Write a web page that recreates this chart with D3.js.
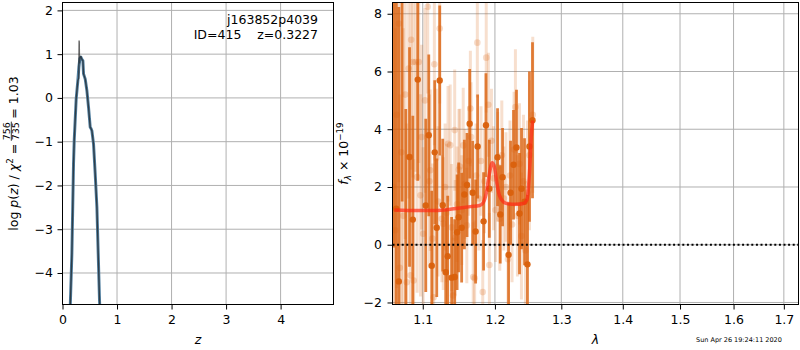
<!DOCTYPE html>
<html><head><meta charset="utf-8">
<script src="https://cdn.jsdelivr.net/npm/d3@7"></script>
<style>body{margin:0;background:#fff}svg{display:block;font-family:"DejaVu Sans",sans-serif}</style>
</head><body><svg id="c" width="800" height="350"></svg>
<script>
// ---------- DATA ----------
// Left panel: log p(z)
const pzZ    = [0.130, 0.140, 0.172, 0.202, 0.215, 0.251, 0.282, 0.300, 0.319, 0.337, 0.356, 0.374, 0.386, 0.417, 0.447, 0.477, 0.508, 0.523, 0.539, 0.569, 0.600, 0.631, 0.655, 0.679, 0.700];
const pzLogp = [-5.3, -4.85, -3.56, -1.51, -0.97, -0.02, 0.40, 0.70, 0.90, 0.93, 0.88, 0.85, 0.55, 0.43, 0.17, -0.21, -0.67, -0.70, -0.75, -1.05, -1.74, -2.50, -3.56, -4.63, -5.30];
const pzFineZ    = [0.130, 0.140, 0.172, 0.202, 0.215, 0.251, 0.282, 0.298, 0.304, 0.308, 0.313, 0.319, 0.337, 0.356, 0.374, 0.386, 0.417, 0.447, 0.477, 0.508, 0.523, 0.539, 0.569, 0.600, 0.631, 0.655, 0.679, 0.700];
const pzFineLogp = [-5.3, -4.85, -3.56, -1.51, -0.97, -0.02, 0.40, 0.45, 1.30, 1.28, 0.80, 0.90, 0.95, 0.88, 0.85, 0.55, 0.43, 0.17, -0.21, -0.67, -0.70, -0.75, -1.05, -1.74, -2.50, -3.56, -4.63, -5.30];
const leftXTicks = [0, 1, 2, 3, 4];
const leftYTicks = [-4, -3, -2, -1, 0, 1, 2];
const objName = "j163852p4039";
const objInfo = "ID=415    z=0.3227";

// Right panel: spectrum
const lightLam  = [1.0615,1.0640,1.0660,1.0687,1.0700,1.0720,1.0745,1.0770,1.0790,1.0815,1.0839,1.0847,1.0869,1.0880,1.0904,1.0926,1.0947,1.0970,1.0985,1.1005,1.1030,1.1066,1.1089,1.1100,1.1130,1.1146,1.1155,1.1180,1.1205,1.1227,1.1256,1.1275,1.1300,1.1320,1.1340,1.1370,1.1390,1.1410,1.1432,1.1440,1.1465,1.1490,1.1503,1.1530,1.1550,1.1575,1.1600,1.1625,1.1650,1.1660,1.1690,1.1710,1.1730,1.1748,1.1770,1.1800,1.1825,1.1850,1.1875,1.1905,1.1920,1.1950,1.1980,1.2010,1.2040,1.2070,1.2100,1.2130,1.2160,1.2190,1.2220,1.2250,1.2280,1.2300,1.2330,1.2360,1.2390,1.2420,1.2450,1.2480,1.2510,1.2560];
const lightFlux = [2.0,0.5,4.5,7.66,-0.8,3.2,1.0,5.2,-1.3,6.1,-1.06,7.1,6.33,-1.24,6.33,2.34,6.33,1.71,3.73,0.38,5.0,8.24,2.2,2.58,0.21,-1.82,6.25,3.0,1.5,7.49,0.90,0.73,2.0,1.1,3.5,3.45,0.6,-1.76,3.97,0.24,1.4,2.6,2.71,1.2,3.44,2.11,0.67,2.9,4.72,3.73,-1.12,-1.16,2.4,7.0,1.6,2.9,-1.64,2.2,6.48,4.85,-0.7,3.6,2.3,1.2,2.7,0.9,3.1,1.6,2.0,-0.5,2.4,0.7,3.3,4.77,1.0,2.8,0.3,2.2,-0.2,1.8,3.1,4.5];
const lightErr  = [6.5,7.0,6.0,5.5,6.0,5.5,6.5,5.0,5.5,4.5,4.0,4.5,4.0,4.2,3.8,4.0,3.5,3.5,3.2,3.0,3.2,3.0,3.0,2.8,2.6,2.5,2.8,2.4,2.6,2.6,2.2,2.3,2.2,2.4,2.0,2.1,2.2,2.0,2.1,2.0,2.0,2.1,2.0,1.9,2.0,1.9,2.0,1.9,2.0,1.9,1.9,2.0,1.8,1.9,1.8,1.9,1.8,1.8,1.9,1.8,1.8,1.8,1.8,1.8,1.9,1.8,1.9,1.8,1.9,2.0,1.9,2.0,2.0,2.0,2.1,2.1,2.2,2.3,2.4,2.5,2.6,2.7];

const darkLam  = [1.0620,1.0654,1.0687,1.0730,1.0777,1.0826,1.0869,1.0934,1.1040,1.1080,1.1120,1.1160,1.1187,1.1227,1.1268,1.1309,1.1336,1.1390,1.1432,1.1465,1.1487,1.1528,1.1566,1.1603,1.1640,1.1682,1.1724,1.1752,1.1837,1.1871,1.1919,1.2038,1.2077,1.2111,1.2199,1.2228,1.2272,1.2316,1.2361,1.2391,1.2436,1.2480,1.2510,1.2556];
const darkFlux = [8.9,1.25,-1.27,9.5,-2.8,3.04,0.87,5.72,1.36,3.79,-0.73,3.20,0.59,5.69,1.37,-0.95,-0.40,-1.14,-1.12,0.43,0.95,0.59,1.74,2.07,4.19,1.80,0.46,3.40,0.81,4.14,1.94,3.03,1.05,2.34,-0.35,1.80,2.77,3.37,1.08,1.94,1.49,-0.68,3.40,4.31];
const darkErr  = [9.0,8.5,9.5,8.0,7.5,3.8,3.6,3.5,3.0,2.8,2.6,2.5,2.4,2.6,2.3,2.2,2.1,2.1,2.0,2.0,1.9,1.9,1.9,1.8,1.9,1.8,1.8,1.8,1.7,1.8,1.7,1.7,1.7,1.7,1.8,1.8,1.9,2.0,2.1,2.1,2.2,2.4,2.6,2.7];

const modelLam  = [1.0630,1.0800,1.1000,1.1200,1.1350,1.1500,1.1650,1.1780,1.1830,1.1875,1.1920,1.1960,1.1990,1.2025,1.2065,1.2125,1.2190,1.2300,1.2420,1.2470,1.2510,1.2540,1.2560];
const modelFlux = [1.20,1.19,1.19,1.19,1.22,1.27,1.32,1.36,1.45,1.78,2.45,2.84,2.72,2.17,1.71,1.48,1.42,1.40,1.43,1.55,2.46,3.85,4.30];

const rightXTicks = [1.1, 1.2, 1.3, 1.4, 1.5, 1.6, 1.7];
const rightYTicks = [-2, 0, 2, 4, 6, 8];
const dateText = "Sun Apr 26 19:24:11 2020";

// ---------- DRAW ----------
const svg = d3.select('#c');
const FS = 12.5;
const GRID = '#b0b0b0';
const ORANGE = '#d9600c';

function styleAxis(g) {
  g.select('.domain').remove();
  g.selectAll('.tick line').attr('stroke', '#000').attr('stroke-width', 1);
  g.selectAll('.tick text').attr('font-size', FS).attr('fill', '#000').attr('font-family', '"DejaVu Sans",sans-serif');
}

// ===== Left panel =====
const L = {x0: 62.5, x1: 333.5, y0: 2.5, y1: 304.5};
const xL = d3.scaleLinear().domain([0, 4.97]).range([L.x0, L.x1]);
const yL = d3.scaleLinear().domain([-4.72, 2.18]).range([L.y1, L.y0]);

svg.append('clipPath').attr('id', 'clipL').append('rect')
  .attr('x', L.x0).attr('y', L.y0).attr('width', L.x1 - L.x0).attr('height', L.y1 - L.y0);

const gridL = svg.append('g');
gridL.selectAll('.vx').data(leftXTicks).join('line')
  .attr('x1', d => xL(d)).attr('x2', d => xL(d)).attr('y1', L.y0).attr('y2', L.y1)
  .attr('stroke', GRID).attr('stroke-width', 1);
gridL.selectAll('.hy').data(leftYTicks).join('line')
  .attr('x1', L.x0).attr('x2', L.x1).attr('y1', d => yL(d)).attr('y2', d => yL(d))
  .attr('stroke', GRID).attr('stroke-width', 1);

const lineL = d3.line().x(d => xL(d[0])).y(d => yL(d[1]));
const plotL = svg.append('g').attr('clip-path', 'url(#clipL)');
plotL.append('path').datum(d3.zip(pzZ, pzLogp)).attr('d', lineL)
  .attr('fill', 'none').attr('stroke', '#4f7d9e').attr('stroke-width', 3).attr('stroke-linejoin', 'round');
plotL.append('path').datum(d3.zip(pzFineZ, pzFineLogp)).attr('d', lineL)
  .attr('fill', 'none').attr('stroke', '#222').attr('stroke-width', 1.3).attr('stroke-opacity', 0.7).attr('stroke-linejoin', 'round');

svg.append('g').attr('transform', `translate(0,${L.y1})`)
  .call(d3.axisBottom(xL).tickValues(leftXTicks).tickSize(5).tickPadding(5.5).tickFormat(d3.format('d')))
  .call(styleAxis);
svg.append('g').attr('transform', `translate(${L.x0},0)`)
  .call(d3.axisLeft(yL).tickValues(leftYTicks).tickSize(5).tickPadding(4.5).tickFormat(d3.format('d')))
  .call(styleAxis);
svg.append('rect').attr('x', L.x0).attr('y', L.y0).attr('width', L.x1 - L.x0).attr('height', L.y1 - L.y0)
  .attr('fill', 'none').attr('stroke', '#000').attr('stroke-width', 1);

svg.append('text').attr('x', 318).attr('y', 23.5).attr('text-anchor', 'end').attr('font-size', FS).text(objName);
svg.append('text').attr('x', 318).attr('y', 39).attr('text-anchor', 'end').attr('font-size', FS)
  .style('white-space', 'pre').attr('xml:space', 'preserve').text(objInfo);

// x label
svg.append('text').attr('x', (L.x0 + L.x1) / 2).attr('y', 344).attr('text-anchor', 'middle')
  .attr('font-size', FS).attr('font-style', 'italic').text('z');

// y label with fraction
(function() {
  const g = svg.append('g').attr('transform', 'translate(17.5,153.5) rotate(-90)');
  const t1 = g.append('text').attr('font-size', FS);
  t1.append('tspan').text('log ');
  t1.append('tspan').attr('font-style', 'italic').text('p');
  t1.append('tspan').text('(');
  t1.append('tspan').attr('font-style', 'italic').text('z');
  t1.append('tspan').style('white-space', 'pre').text(') / ');
  t1.append('tspan').attr('font-style', 'italic').text('χ');
  t1.append('tspan').attr('font-size', FS * 0.7).attr('dy', -5).text('2');
  t1.append('tspan').attr('dy', 5).text('\u00a0=');
  const fs2 = 9.5;
  const num = g.append('text').attr('font-size', fs2).attr('text-anchor', 'middle').text('756');
  const den = g.append('text').attr('font-size', fs2).attr('text-anchor', 'middle').text('735');
  const t3 = g.append('text').attr('font-size', FS).text('=\u00a01.03');
  const w1 = t1.node().getComputedTextLength();
  const wf = Math.max(num.node().getComputedTextLength(), den.node().getComputedTextLength()) + 1;
  const w3 = t3.node().getComputedTextLength();
  const gap = 3;
  const total = w1 + gap + wf + gap + w3;
  const s = -total / 2;
  t1.attr('x', s);
  const fc = s + w1 + gap + wf / 2;
  num.attr('x', fc).attr('y', -7.4);
  den.attr('x', fc).attr('y', 1.6);
  g.append('line').attr('x1', fc - wf / 2).attr('x2', fc + wf / 2).attr('y1', -6.2).attr('y2', -6.2)
    .attr('stroke', '#000').attr('stroke-width', 0.8);
  t3.attr('x', s + w1 + gap + wf + gap);
})();

// ===== Right panel =====
const R = {x0: 392.5, x1: 798.5, y0: 2.5, y1: 304.5};
const xR = d3.scaleLog().domain([1.0606, 1.7303]).range([R.x0, R.x1]);
const yR = d3.scaleLinear().domain([-2.07, 8.39]).range([R.y1, R.y0]);

svg.append('clipPath').attr('id', 'clipR').append('rect')
  .attr('x', R.x0).attr('y', R.y0).attr('width', R.x1 - R.x0).attr('height', R.y1 - R.y0);

const gridR = svg.append('g');
gridR.selectAll('.vx').data(rightXTicks).join('line')
  .attr('x1', d => xR(d)).attr('x2', d => xR(d)).attr('y1', R.y0).attr('y2', R.y1)
  .attr('stroke', GRID).attr('stroke-width', 1);
gridR.selectAll('.hy').data(rightYTicks).join('line')
  .attr('x1', R.x0).attr('x2', R.x1).attr('y1', d => yR(d)).attr('y2', d => yR(d))
  .attr('stroke', GRID).attr('stroke-width', 1);

const plotR = svg.append('g').attr('clip-path', 'url(#clipR)');
const light = d3.zip(lightLam, lightFlux, lightErr);
const dark = d3.zip(darkLam, darkFlux, darkErr);

const gl = plotR.append('g');
gl.selectAll('line').data(light).join('line')
  .attr('x1', d => xR(d[0])).attr('x2', d => xR(d[0]))
  .attr('y1', d => yR(d[1] - d[2])).attr('y2', d => yR(d[1] + d[2]))
  .attr('stroke', ORANGE).attr('stroke-opacity', 0.2).attr('stroke-width', 3);
gl.selectAll('circle').data(light).join('circle')
  .attr('cx', d => xR(d[0])).attr('cy', d => yR(d[1])).attr('r', 3.3)
  .attr('fill', ORANGE).attr('fill-opacity', 0.22);

const gd = plotR.append('g');
gd.selectAll('line').data(dark).join('line')
  .attr('x1', d => xR(d[0])).attr('x2', d => xR(d[0]))
  .attr('y1', d => yR(d[1] - d[2])).attr('y2', d => yR(d[1] + d[2]))
  .attr('stroke', ORANGE).attr('stroke-opacity', 0.8).attr('stroke-width', 2.8);
gd.selectAll('circle').data(dark).join('circle')
  .attr('cx', d => xR(d[0])).attr('cy', d => yR(d[1])).attr('r', 3.2)
  .attr('fill', ORANGE).attr('fill-opacity', 0.95);

plotR.append('path').datum(d3.zip(modelLam, modelFlux))
  .attr('d', d3.line().x(d => xR(d[0])).y(d => yR(d[1])).curve(d3.curveMonotoneX))
  .attr('fill', 'none').attr('stroke', '#ff2a14').attr('stroke-opacity', 0.7).attr('stroke-width', 3.5);

plotR.append('line').attr('x1', R.x0).attr('x2', R.x1).attr('y1', yR(0)).attr('y2', yR(0))
  .attr('stroke', '#000').attr('stroke-width', 1.8).attr('stroke-dasharray', '2,2.6');

svg.append('g').attr('transform', `translate(0,${R.y1})`)
  .call(d3.axisBottom(xR).tickValues(rightXTicks).tickSize(5).tickPadding(5.5).tickFormat(d3.format('.1f')))
  .call(styleAxis);
svg.append('g').attr('transform', `translate(${R.x0},0)`)
  .call(d3.axisLeft(yR).tickValues(rightYTicks).tickSize(5).tickPadding(5.5).tickFormat(d3.format('d')))
  .call(styleAxis);
svg.append('rect').attr('x', R.x0).attr('y', R.y0).attr('width', R.x1 - R.x0).attr('height', R.y1 - R.y0)
  .attr('fill', 'none').attr('stroke', '#000').attr('stroke-width', 1);

svg.append('text').attr('x', (R.x0 + R.x1) / 2).attr('y', 344).attr('text-anchor', 'middle')
  .attr('font-size', FS).attr('font-style', 'italic').text('λ');

(function() {
  const g = svg.append('g').attr('transform', 'translate(348,153.5) rotate(-90)');
  const t = g.append('text').attr('font-size', FS).attr('text-anchor', 'middle');
  t.append('tspan').attr('font-style', 'italic').text('f');
  t.append('tspan').attr('font-style', 'italic').attr('font-size', FS * 0.7).attr('dy', 2.5).text('λ');
  t.append('tspan').attr('dy', -2.5).text('\u00a0×\u00a010');
  t.append('tspan').attr('font-size', FS * 0.7).attr('dy', -5).text('−19');
})();

svg.append('text').attr('x', 696).attr('y', 341.5).attr('font-size', 6.5).text(dateText);
</script>
</body></html>
